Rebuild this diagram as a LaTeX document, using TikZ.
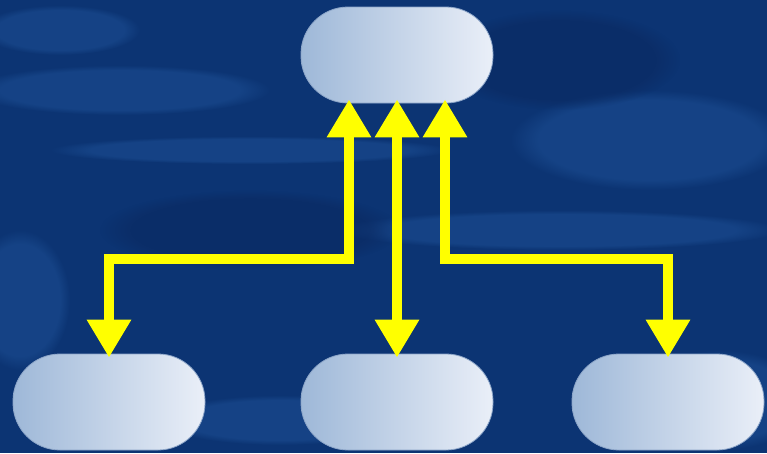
\documentclass[tikz,border=0pt]{standalone}
\usetikzlibrary{arrows.meta,fadings,calc}
\definecolor{bgdark}{RGB}{12,52,115}
\definecolor{bglight}{RGB}{32,84,155}
\definecolor{bgdeep}{RGB}{10,40,95}
\definecolor{nodeleft}{RGB}{158,184,216}
\definecolor{noderight}{RGB}{234,239,248}
\definecolor{nodeedge}{RGB}{140,165,200}
\definecolor{arrowyellow}{RGB}{255,255,0}
\tikzset{
  pill/.style={rectangle, rounded corners=47pt, minimum width=192pt, minimum height=96pt,
    left color=nodeleft, right color=noderight, draw=nodeedge, line width=0.8pt, inner sep=0pt},
  yarrow/.style={draw=arrowyellow, line width=10pt,
    {Triangle[width=42pt,length=38pt,fill=arrowyellow]}-{Triangle[width=42pt,length=38pt,fill=arrowyellow]},
    shorten <=-4pt, shorten >=-4pt},
  streak/.style={fill=bglight, path fading=circle with fuzzy edge 20 percent, opacity=0.45},
  shade/.style={fill=bgdeep, path fading=circle with fuzzy edge 20 percent, opacity=0.5}
}
\begin{document}
\begin{tikzpicture}[x=1pt,y=-1pt]
\useasboundingbox (0,0) rectangle (767,453);
\fill[bgdark] (0,0) rectangle (767,453);
% background texture
\fill[streak] (120,90) ellipse (150 and 25);
\fill[streak] (250,150) ellipse (200 and 14);
\fill[streak] (650,140) ellipse (140 and 50);
\fill[streak] (560,230) ellipse (220 and 20);
\fill[streak] (60,30) ellipse (80 and 25);
\fill[streak] (720,400) ellipse (90 and 50);
\fill[streak] (280,420) ellipse (120 and 25);
\fill[streak] (20,300) ellipse (50 and 70);
\fill[shade] (560,60) ellipse (120 and 50);
\fill[shade] (250,230) ellipse (150 and 40);
% nodes
\node[pill] (top) at (397,55) {};
\node[pill] (bl) at (109,402) {};
\node[pill] (bm) at (397,402) {};
\node[pill] (br) at (668,402) {};
\coordinate (jl) at (349,259);
\coordinate (jr) at (445,259);
% connectors
\draw[yarrow] (bl.north) |- (jl) -- (jl |- top.south);
\draw[yarrow] (bm.north) -- (top.south);
\draw[yarrow] (br.north) |- (jr) -- (jr |- top.south);
\end{tikzpicture}
\end{document}
